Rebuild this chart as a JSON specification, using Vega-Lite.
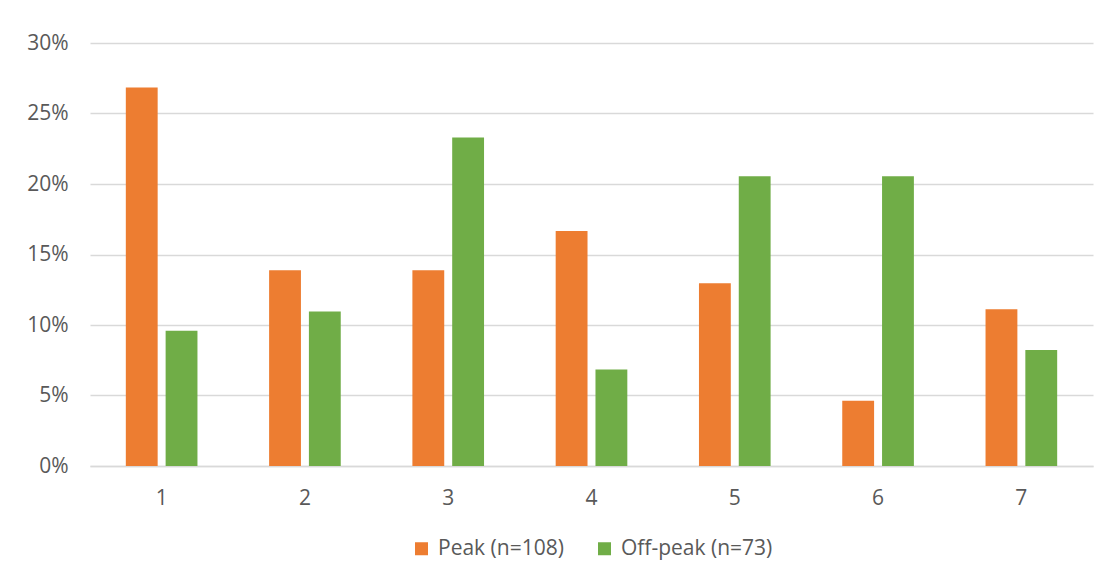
{
  "$schema": "https://vega.github.io/schema/vega-lite/v6.json",
  "autosize": "none",
  "width": 1003,
  "height": 423,
  "padding": {"left": 90, "top": 43, "right": 18, "bottom": 113},
  "background": "white",
  "data": {
    "values": [
      {"cat": "1", "group": "Peak (n=108)", "value": 0.2685},
      {"cat": "1", "group": "Off-peak (n=73)", "value": 0.0959},
      {"cat": "2", "group": "Peak (n=108)", "value": 0.1389},
      {"cat": "2", "group": "Off-peak (n=73)", "value": 0.1096},
      {"cat": "3", "group": "Peak (n=108)", "value": 0.1389},
      {"cat": "3", "group": "Off-peak (n=73)", "value": 0.2329},
      {"cat": "4", "group": "Peak (n=108)", "value": 0.1667},
      {"cat": "4", "group": "Off-peak (n=73)", "value": 0.0685},
      {"cat": "5", "group": "Peak (n=108)", "value": 0.1296},
      {"cat": "5", "group": "Off-peak (n=73)", "value": 0.2055},
      {"cat": "6", "group": "Peak (n=108)", "value": 0.0463},
      {"cat": "6", "group": "Off-peak (n=73)", "value": 0.2055},
      {"cat": "7", "group": "Peak (n=108)", "value": 0.1111},
      {"cat": "7", "group": "Off-peak (n=73)", "value": 0.0822}
    ]
  },
  "mark": {"type": "bar"},
  "encoding": {
    "x": {
      "field": "cat",
      "type": "nominal",
      "scale": {"paddingInner": 0.5, "paddingOuter": 0.25},
      "axis": {
        "title": null,
        "labelAngle": 0,
        "ticks": false,
        "domainColor": "#d9d9d9",
        "domainWidth": 1.5,
        "labelPadding": 21,
        "labelFont": "Open Sans",
        "labelFontSize": 21,
        "labelColor": "#595959"
      }
    },
    "xOffset": {
      "field": "group",
      "type": "nominal",
      "sort": ["Peak (n=108)", "Off-peak (n=73)"],
      "scale": {"paddingInner": 0.2, "paddingOuter": 0}
    },
    "y": {
      "field": "value",
      "type": "quantitative",
      "scale": {"domain": [0, 0.3], "nice": false},
      "axis": {
        "title": null,
        "format": ".0%",
        "values": [0, 0.05, 0.1, 0.15, 0.2, 0.25, 0.3],
        "domain": false,
        "ticks": false,
        "gridColor": "#d9d9d9",
        "gridWidth": 1.3,
        "labelPadding": 22,
        "labelFont": "Open Sans",
        "labelFontSize": 21,
        "labelColor": "#595959"
      }
    },
    "color": {
      "field": "group",
      "type": "nominal",
      "sort": ["Peak (n=108)", "Off-peak (n=73)"],
      "scale": {"range": ["#ED7D31", "#70AD47"]},
      "legend": {
        "title": null,
        "orient": "bottom",
        "direction": "horizontal",
        "symbolType": "square",
        "symbolSize": 169,
        "symbolStrokeWidth": 0,
        "labelFont": "Open Sans",
        "labelFontSize": 21,
        "labelColor": "#595959",
        "labelOffset": 6,
        "columnPadding": 30,
        "offset": 30
      }
    }
  },
  "config": {
    "view": {"stroke": null},
    "legend": {"layout": {"bottom": {"anchor": "middle"}}}
  }
}
